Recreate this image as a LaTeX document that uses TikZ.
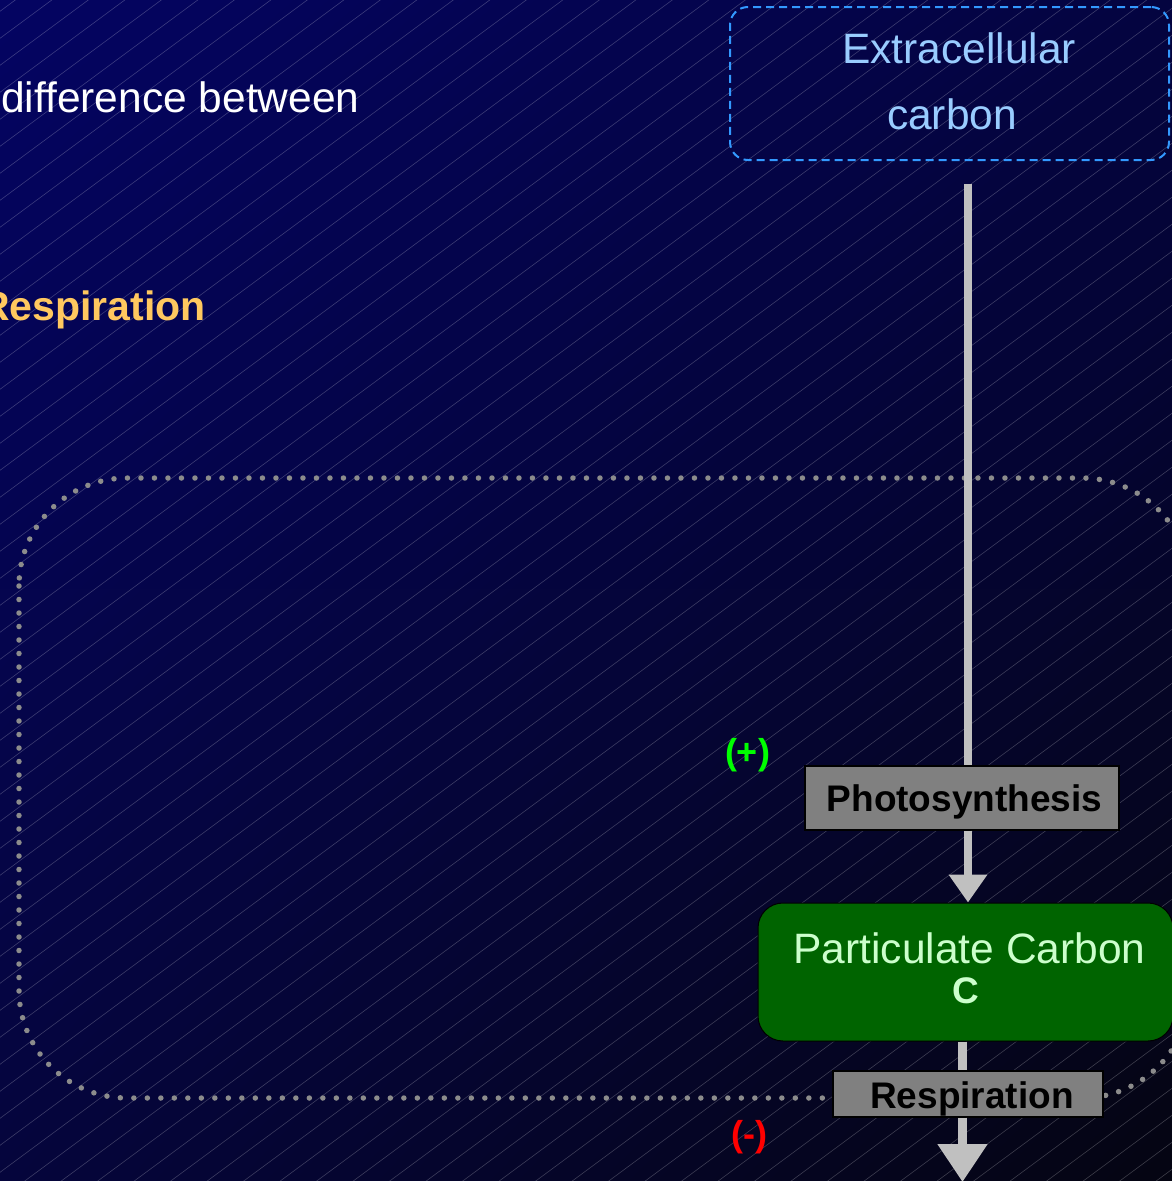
\documentclass[tikz,border=0pt]{standalone}
\usepackage{fontspec}
\setmainfont{Liberation Sans}
\usetikzlibrary{arrows.meta,shadings}
\definecolor{bgUL}{RGB}{4,4,98}
\definecolor{bgUR}{RGB}{4,4,64}
\definecolor{bgLL}{RGB}{5,5,60}
\definecolor{bgLR}{RGB}{5,5,18}
\definecolor{flowgray}{RGB}{192,192,192}
\definecolor{boxgray}{RGB}{128,128,128}
\definecolor{dotgray}{RGB}{140,140,140}
\definecolor{dashblue}{RGB}{51,153,255}
\definecolor{lightblue}{RGB}{153,204,255}
\definecolor{carbgreen}{RGB}{0,100,0}
\definecolor{lightgreen}{RGB}{204,255,204}
\definecolor{titleorange}{RGB}{255,200,95}
\definecolor{plusgreen}{RGB}{0,255,0}
\definecolor{minusred}{RGB}{255,0,0}
\begin{document}
\begin{tikzpicture}[x=1pt,y=-1pt,
  hatchline/.style={draw=white, opacity=0.22, line width=0.6pt},
  flow/.style={draw=flowgray, line width=8.5pt},
  procbox/.style={draw=black, line width=1.2pt, fill=boxgray, inner sep=0pt,
    font=\fontsize{37}{40}\selectfont\bfseries, text=black},
  bigtext/.style={font=\fontsize{42.5}{48}\selectfont, inner sep=0pt},
  sign/.style={font=\fontsize{36}{40}\selectfont\bfseries, inner sep=0pt}]
\useasboundingbox (0,0) rectangle (1172,1181);
\clip (0,0) rectangle (1172,1181);
% background
\shade[upper left=bgUL, upper right=bgUR, lower left=bgLL, lower right=bgLR]
  (0,0) rectangle (1172,1181);
\foreach \k in {0,...,77}
  \draw[hatchline] (0,{11.3+27*\k}) -- ++(1172,-867);
% dotted region
\draw[dotgray, line width=5.5pt, line cap=round, dash pattern=on 0pt off 13.5pt,
  rounded corners=108pt] (19,478) rectangle (1190,1098);
% title fragments
\node[bigtext, text=white, anchor=base west] (diff) at (1,112) {difference between};
\node[anchor=base east, inner sep=0pt, text=titleorange,
  font=\fontsize{41}{48}\selectfont\bfseries] (resptitle) at (206,320) {Respiration};
% extracellular carbon
\node[draw=dashblue, line width=2pt, dash pattern=on 8pt off 5pt, rounded corners=18pt,
  minimum width=439pt, minimum height=153pt, inner sep=0pt, align=center,
  text=lightblue, font=\fontsize{42.5}{66}\selectfont, text height=97pt, text depth=6pt]
  (ext) at (949.5,83.5)
  {\hspace*{19pt}Extracellular\\\hspace*{5pt}carbon};
% process boxes
\node[procbox, minimum width=314pt, minimum height=64pt, text height=26pt, text depth=0pt]
  (photo) at (962,798) {\hspace*{5pt}Photosynthesis};
\node[draw=black, line width=1pt, fill=carbgreen, rounded corners=25pt,
  minimum width=415pt, minimum height=138pt, inner sep=0pt, align=center,
  text=lightgreen, font=\fontsize{42.5}{40}\selectfont, text height=71pt, text depth=9pt]
  (pc) at (965.5,972)
  {\hspace*{8pt}Particulate Carbon\\{\fontsize{37}{40}\selectfont\bfseries C}};
\node[procbox, minimum width=270pt, minimum height=46pt, text height=28pt, text depth=0pt]
  (resp) at (968,1094) {\hspace*{8pt}Respiration};
% signs
\node[sign, text=plusgreen] (plus) at (747.5,755) {(+)};
\node[sign, text=minusred] (minus) at (749,1137) {(-)};
% connectors
\coordinate (spine) at (968,0);
\coordinate (spineb) at (962.5,0);
\coordinate (sink) at (962.5,1182);
\draw[flow] ([yshift=-23pt]ext.south -| spine) -- (photo.north -| spine);
\draw[flow, -{Triangle[width=37pt,length=28pt]}] (photo.south -| spine) -- (pc.north -| spine);
\draw[flow] (pc.south -| spineb) -- (resp.north -| spineb);
\draw[flow, -{Triangle[width=48pt,length=38pt]}] (resp.south -| spineb) -- (sink);
\end{tikzpicture}
\end{document}
